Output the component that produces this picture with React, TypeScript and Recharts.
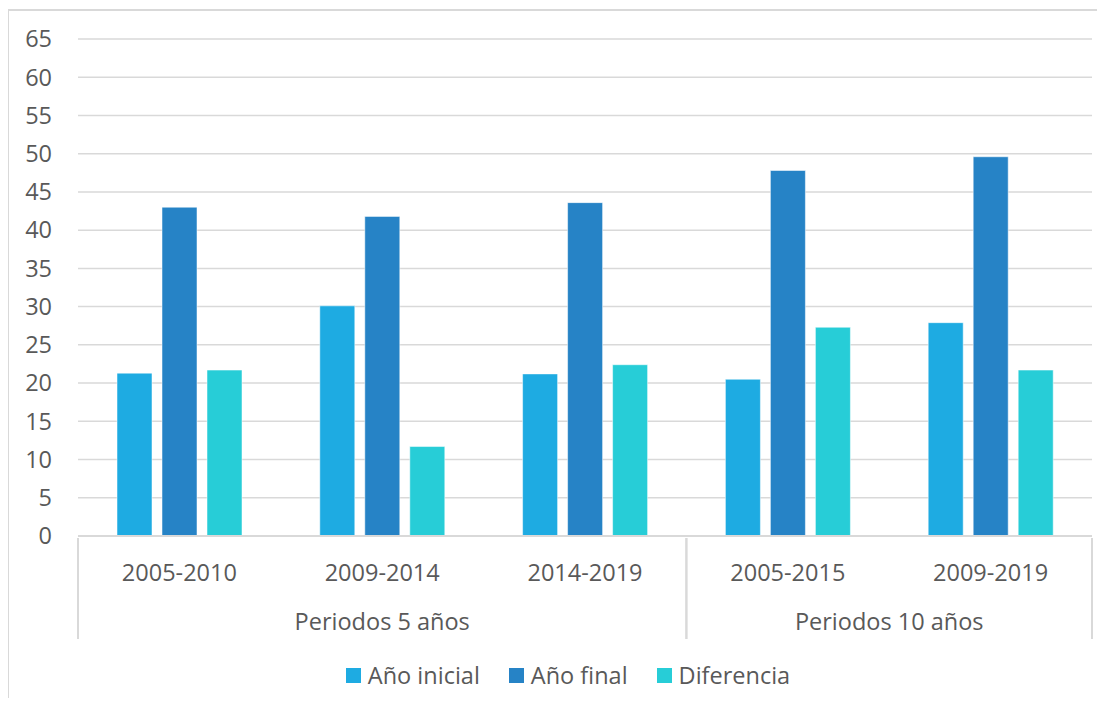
import { BarChart, Bar, XAxis, YAxis, CartesianGrid, Legend } from 'recharts';

const periods = ['2005-2010', '2009-2014', '2014-2019', '2005-2015', '2009-2019'];
const groups = ['Periodos 5 años', 'Periodos 5 años', 'Periodos 5 años', 'Periodos 10 años', 'Periodos 10 años'];
const anoInicial = [21.3, 30.1, 21.2, 20.5, 27.9];
const anoFinal = [43.0, 41.8, 43.6, 47.8, 49.6];
const diferencia = [21.7, 11.7, 22.4, 27.3, 21.7];
const yTicks = [0, 5, 10, 15, 20, 25, 30, 35, 40, 45, 50, 55, 60, 65];

const series = [
  { key: 'inicial', name: 'Año inicial', color: '#1eabe2' },
  { key: 'final', name: 'Año final', color: '#2683c6' },
  { key: 'diferencia', name: 'Diferencia', color: '#27cdd7' },
];

const data = periods.map((p, i) => ({
  period: p,
  group: groups[i],
  inicial: anoInicial[i],
  final: anoFinal[i],
  diferencia: diferencia[i],
}));

const W = 1105;
const H = 706;
const MARGIN = { top: 39, right: 13, left: 8, bottom: 0 };
const Y_W = 70;
const LEGEND_H = 70;
const BAND = (W - MARGIN.left - Y_W - MARGIN.right) / periods.length;
const FONT = '"Open Sans", sans-serif';
const FS = 23.5;
const TEXT = '#595959';
const LINE = '#d9d9d9';

// two-level category axis: period labels, then group labels with separators
function PeriodTick(props: any) {
  const { x, y, payload } = props;
  const i = payload.index;
  const left = x - BAND / 2;
  const right = x + BAND / 2;
  const g = groups[i];
  const first = i === 0 || groups[i - 1] !== g;
  const last = i === groups.length - 1 || groups[i + 1] !== g;
  let start = i;
  while (start > 0 && groups[start - 1] === g) start--;
  let span = 0;
  while (start + span < groups.length && groups[start + span] === g) span++;
  const mid = start + (span - 1) / 2;
  const isLabelHost = Math.floor(mid) === i;
  const groupX = x + (mid - i) * BAND;
  return (
    <g>
      <text x={x} y={y + 43} textAnchor="middle" fill={TEXT} fontSize={FS} fontFamily={FONT}>
        {payload.value}
      </text>
      {first && <line x1={left} x2={left} y1={y} y2={y + 101} stroke={LINE} strokeWidth={2} />}
      {last && <line x1={right} x2={right} y1={y} y2={y + 101} stroke={LINE} strokeWidth={2} />}
      {isLabelHost && (
        <text x={groupX} y={y + 92} textAnchor="middle" fill={TEXT} fontSize={FS} fontFamily={FONT}>
          {g}
        </text>
      )}
    </g>
  );
}

function LegendContent() {
  return (
    <div
      style={{
        height: LEGEND_H,
        boxSizing: 'border-box',
        paddingTop: 23,
        paddingLeft: 36,
        display: 'flex',
        justifyContent: 'center',
        alignItems: 'flex-start',
        gap: 29,
        fontFamily: FONT,
        fontSize: FS,
        lineHeight: '32px',
        color: TEXT,
      }}
    >
      {series.map(s => (
        <div key={s.key} style={{ display: 'flex', alignItems: 'center', gap: 7 }}>
          <span style={{ width: 15, height: 15, background: s.color, display: 'inline-block' }} />
          <span>{s.name}</span>
        </div>
      ))}
    </div>
  );
}

export default function App() {
  return (
    <div style={{ position: 'relative', width: W, height: H, margin: -8, overflow: 'hidden', background: '#fff' }}>
      <div style={{ position: 'absolute', left: 7, top: 9, width: W + 20, height: H + 20, border: `2px solid ${LINE}` }} />
      <div style={{ position: 'absolute', left: 0, top: 0 }}>
        <BarChart width={W} height={H} data={data} margin={MARGIN} barSize={35} barGap={10}>
          <CartesianGrid vertical={false} stroke={LINE} strokeWidth={1.5} />
          <XAxis
            dataKey="period"
            height={100}
            axisLine={{ stroke: LINE, strokeWidth: 2 }}
            tickLine={false}
            tickSize={0}
            interval={0}
            tick={<PeriodTick />}
          />
          <YAxis
            width={Y_W}
            domain={[0, 65]}
            ticks={yTicks}
            interval={0}
            axisLine={false}
            tickLine={false}
            tickSize={0}
            tickMargin={26}
            tick={{ fill: TEXT, fontSize: FS, fontFamily: FONT }}
          />
          <Legend
            verticalAlign="bottom"
            height={LEGEND_H}
            content={<LegendContent />}
            wrapperStyle={{ height: LEGEND_H, padding: 0, margin: 0 }}
          />
          {series.map(s => (
            <Bar
              key={s.key}
              dataKey={s.key}
              name={s.name}
              fill={s.color}
              stroke="rgba(255,255,255,0.5)"
              strokeWidth={1}
              isAnimationActive={false}
            />
          ))}
        </BarChart>
      </div>
    </div>
  );
}
